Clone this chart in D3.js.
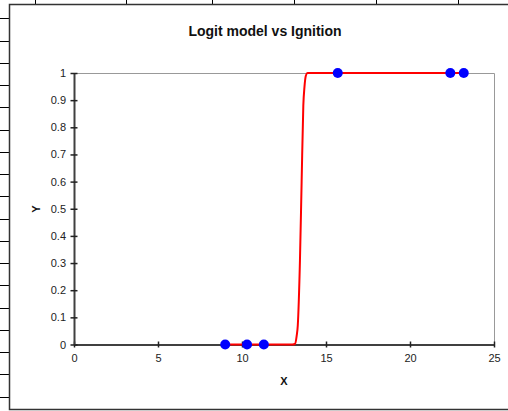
<!DOCTYPE html>
<html><head><meta charset="utf-8">
<script src="https://cdn.jsdelivr.net/npm/d3@7"></script>
<style>body{margin:0;background:#fff;}svg{display:block;font-family:"Liberation Sans",Arial,sans-serif;}</style>
</head><body>
<svg id="c" width="508" height="411"></svg>
<script>
const obsX = [9.0, 10.3, 11.3, 15.7, 22.4, 23.2];
const obsY = [0, 0, 0, 1, 1, 1];
const fitX = [9.0, 10.3, 11.3, 13.0, 13.15, 13.25, 13.32, 13.45, 13.55, 13.65, 13.72, 13.8, 13.9, 15.7, 22.4, 23.2];
const fitY = [0, 0, 0, 0, 0.002, 0.03, 0.07, 0.31, 0.6, 0.88, 0.95, 0.99, 1, 1, 1, 1];
const xTicks = [0, 5, 10, 15, 20, 25];
const yTicks = [0, 0.1, 0.2, 0.3, 0.4, 0.5, 0.6, 0.7, 0.8, 0.9, 1];
const title = "Logit model vs Ignition";

const svg = d3.select("#c");
// spreadsheet frame decorations
const rowLines = d3.range(18).map(i => 18.3 + i * 22.25);
svg.selectAll("line.row").data(rowLines).enter().append("line")
  .attr("x1", 0).attr("x2", 9).attr("y1", d => Math.round(d) + 0.5).attr("y2", d => Math.round(d) + 0.5)
  .attr("stroke", "#000").attr("stroke-width", 1);
const colLines = [35.5, 126.5, 212.5, 294.5, 376.5, 458.5];
svg.selectAll("line.col").data(colLines).enter().append("line")
  .attr("x1", d => d).attr("x2", d => d).attr("y1", 0).attr("y2", 4)
  .attr("stroke", "#000").attr("stroke-width", 1);
svg.append("path").attr("d", "M508,4.5 H9.5 V409.5 H508")
  .attr("fill", "none").attr("stroke", "#333").attr("stroke-width", 1.5);

const L = 74, R = 494, T = 73, B = 344.5;
const x = d3.scaleLinear().domain([0, 25]).range([L, R]);
const y = d3.scaleLinear().domain([0, 1]).range([B, T]);

// plot border top/right
svg.append("path").attr("d", `M${L},${T+0.5} H${R+0.5} V${B}`)
  .attr("fill", "none").attr("stroke", "#999").attr("stroke-width", 1);

// axes
const xAxis = svg.append("g").attr("transform", `translate(0,${B})`)
  .call(d3.axisBottom(x).tickValues(xTicks).tickSize(0).tickPadding(10));
xAxis.select(".domain").attr("stroke", "#404040").attr("stroke-width", 2);
xAxis.selectAll(".tick line").remove();
xAxis.selectAll(".tick").append("line").attr("y1", -3).attr("y2", 3).attr("stroke", "#222").attr("stroke-width", 1.5);
xAxis.selectAll("text").attr("font-size", 11).attr("fill", "#222").attr("font-family", "Liberation Sans, Arial, sans-serif");

const yAxis = svg.append("g").attr("transform", `translate(${L},0)`)
  .call(d3.axisLeft(y).tickValues(yTicks).tickFormat(d3.format("")).tickSize(0).tickPadding(8));
yAxis.select(".domain").attr("stroke", "#404040").attr("stroke-width", 2);
yAxis.selectAll(".tick line").remove();
yAxis.selectAll(".tick").append("line").attr("x1", -3.5).attr("x2", 3.5).attr("stroke", "#222").attr("stroke-width", 1.5);
yAxis.selectAll("text").attr("font-size", 11).attr("fill", "#222").attr("font-family", "Liberation Sans, Arial, sans-serif");

// fitted curve
const pts = fitX.map((v, i) => [v, fitY[i]]);
svg.append("path").datum(pts)
  .attr("d", d3.line().x(d => x(d[0])).y(d => y(d[1])).curve(d3.curveMonotoneX))
  .attr("fill", "none").attr("stroke", "#ff0000").attr("stroke-width", 2);

// observations
svg.selectAll("circle").data(obsX.map((v, i) => [v, obsY[i]])).enter().append("circle")
  .attr("cx", d => x(d[0])).attr("cy", d => y(d[1])).attr("r", 5).attr("fill", "#0000ff");

// labels
svg.append("text").attr("x", 265).attr("y", 36).attr("text-anchor", "middle")
  .attr("font-size", 14).attr("font-weight", "bold").attr("fill", "#111").text(title);
svg.append("text").attr("x", 284).attr("y", 385).attr("text-anchor", "middle")
  .attr("font-size", 11).attr("font-weight", "bold").attr("fill", "#111").text("X");
svg.append("text").attr("transform", "translate(40,209) rotate(-90)").attr("text-anchor", "middle")
  .attr("font-size", 11).attr("font-weight", "bold").attr("fill", "#111").text("Y");
</script>
</body></html>
